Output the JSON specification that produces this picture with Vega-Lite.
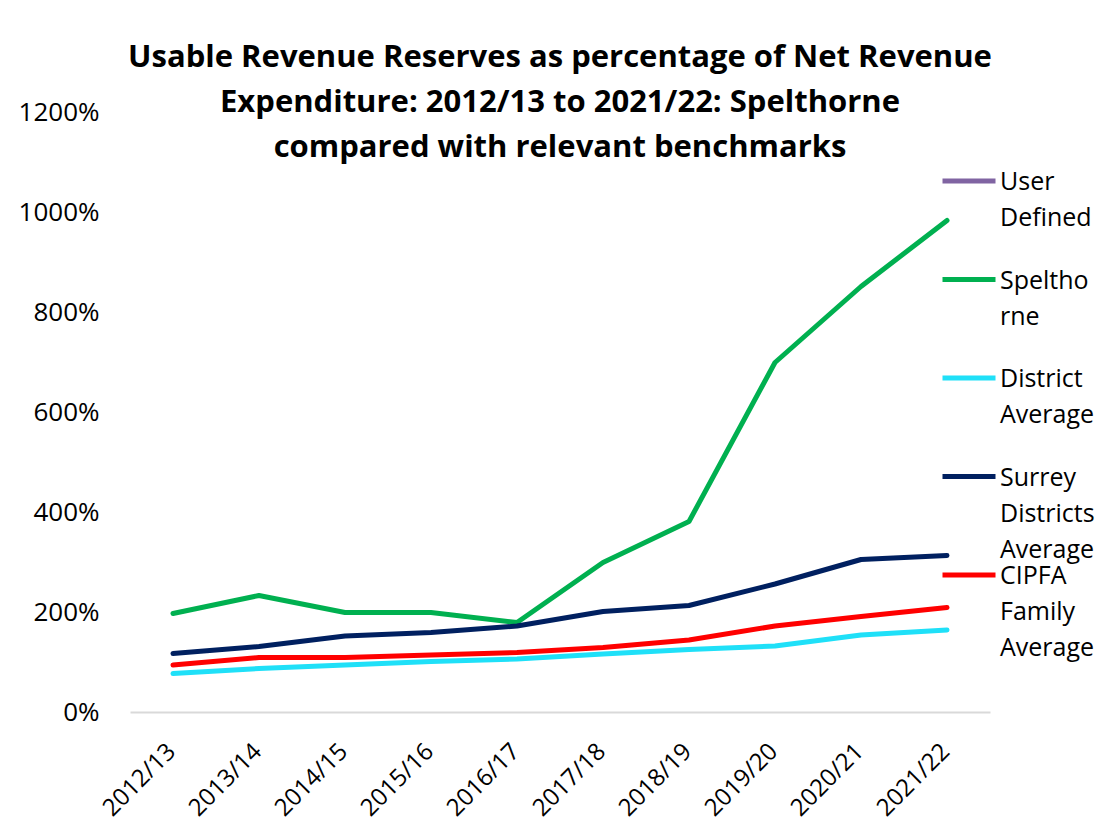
{
  "$schema": "https://vega.github.io/schema/vega-lite/v6.json",
  "width": 860,
  "height": 600,
  "autosize": {"type": "none"},
  "padding": {"left": 130, "top": 112, "right": 116, "bottom": 122},
  "background": "white",
  "title": {
    "text": ["Usable Revenue Reserves as percentage of Net Revenue", "Expenditure: 2012/13 to 2021/22: Spelthorne", "compared with relevant benchmarks"],
    "font": "Open Sans",
    "fontSize": 31,
    "fontWeight": "bold",
    "color": "black",
    "lineHeight": 45,
    "anchor": "middle",
    "baseline": "bottom",
    "offset": -96
  },
  "data": {
    "values": [
      {"year": "2012/13", "series": "Spelthorne", "value": 197},
      {"year": "2013/14", "series": "Spelthorne", "value": 233},
      {"year": "2014/15", "series": "Spelthorne", "value": 199},
      {"year": "2015/16", "series": "Spelthorne", "value": 199},
      {"year": "2016/17", "series": "Spelthorne", "value": 179},
      {"year": "2017/18", "series": "Spelthorne", "value": 299},
      {"year": "2018/19", "series": "Spelthorne", "value": 381},
      {"year": "2019/20", "series": "Spelthorne", "value": 699},
      {"year": "2020/21", "series": "Spelthorne", "value": 851},
      {"year": "2021/22", "series": "Spelthorne", "value": 983},
      {"year": "2012/13", "series": "District Average", "value": 77},
      {"year": "2013/14", "series": "District Average", "value": 87},
      {"year": "2014/15", "series": "District Average", "value": 94},
      {"year": "2015/16", "series": "District Average", "value": 101},
      {"year": "2016/17", "series": "District Average", "value": 106},
      {"year": "2017/18", "series": "District Average", "value": 116},
      {"year": "2018/19", "series": "District Average", "value": 125},
      {"year": "2019/20", "series": "District Average", "value": 132},
      {"year": "2020/21", "series": "District Average", "value": 154},
      {"year": "2021/22", "series": "District Average", "value": 164},
      {"year": "2012/13", "series": "Surrey Districts Average", "value": 117},
      {"year": "2013/14", "series": "Surrey Districts Average", "value": 131},
      {"year": "2014/15", "series": "Surrey Districts Average", "value": 152},
      {"year": "2015/16", "series": "Surrey Districts Average", "value": 159},
      {"year": "2016/17", "series": "Surrey Districts Average", "value": 172},
      {"year": "2017/18", "series": "Surrey Districts Average", "value": 201},
      {"year": "2018/19", "series": "Surrey Districts Average", "value": 213},
      {"year": "2019/20", "series": "Surrey Districts Average", "value": 256},
      {"year": "2020/21", "series": "Surrey Districts Average", "value": 305},
      {"year": "2021/22", "series": "Surrey Districts Average", "value": 313},
      {"year": "2012/13", "series": "CIPFA Family Average", "value": 94},
      {"year": "2013/14", "series": "CIPFA Family Average", "value": 109},
      {"year": "2014/15", "series": "CIPFA Family Average", "value": 109},
      {"year": "2015/16", "series": "CIPFA Family Average", "value": 114},
      {"year": "2016/17", "series": "CIPFA Family Average", "value": 119},
      {"year": "2017/18", "series": "CIPFA Family Average", "value": 129},
      {"year": "2018/19", "series": "CIPFA Family Average", "value": 144},
      {"year": "2019/20", "series": "CIPFA Family Average", "value": 172},
      {"year": "2020/21", "series": "CIPFA Family Average", "value": 191},
      {"year": "2021/22", "series": "CIPFA Family Average", "value": 209}
    ]
  },
  "encoding": {
    "x": {
      "field": "year",
      "type": "nominal",
      "sort": null,
      "scale": {"type": "point", "padding": 0.5},
      "axis": {
        "title": null,
        "labelAngle": -45,
        "labelFont": "Open Sans",
        "labelFontSize": 24,
        "labelColor": "black",
        "labelPadding": 27,
        "labelOffset": -10,
        "ticks": false,
        "domainColor": "#d9d9d9",
        "domainWidth": 2,
        "grid": false
      }
    },
    "y": {
      "field": "value",
      "type": "quantitative",
      "scale": {"domain": [0, 1200], "nice": false},
      "axis": {
        "title": null,
        "values": [0, 200, 400, 600, 800, 1000, 1200],
        "labelExpr": "datum.value + '%'",
        "labelFont": "Open Sans",
        "labelFontSize": 26,
        "labelColor": "black",
        "labelPadding": 31,
        "ticks": false,
        "domain": false,
        "grid": false
      }
    }
  },
  "layer": [
    {
      "transform": [{"filter": "datum.series != 'CIPFA Family Average'"}],
      "mark": {"type": "line", "strokeWidth": 5, "strokeCap": "round", "strokeJoin": "round"},
      "encoding": {
        "color": {
          "field": "series",
          "type": "nominal",
          "scale": {
            "domain": ["User Defined", "Spelthorne", "District Average", "Surrey Districts Average"],
            "range": ["#8064A2", "#00B050", "#1FE0F8", "#002060"]
          },
          "legend": {
            "legendX": 810,
            "legendY": 40,
            "rowPadding": 19.5,
            "gridAlign": "each",
            "labelExpr": "datum.label == 'User Defined' ? ['User', 'Defined'] : datum.label == 'Spelthorne' ? ['Speltho', 'rne'] : datum.label == 'District Average' ? ['District', 'Average'] : ['Surrey', 'Districts', 'Average']",
            "encode": {"labels": {"update": {"dy": {"value": 9}}}}
          }
        }
      }
    },
    {
      "transform": [{"filter": "datum.series == 'CIPFA Family Average'"}],
      "mark": {"type": "line", "strokeWidth": 5, "strokeCap": "round", "strokeJoin": "round"},
      "encoding": {
        "stroke": {
          "field": "series",
          "type": "nominal",
          "scale": {"domain": ["CIPFA Family Average"], "range": ["#FF0000"]},
          "legend": {
            "legendX": 810,
            "legendY": 434,
            "labelExpr": "['CIPFA', 'Family', 'Average']",
            "encode": {"labels": {"update": {"dy": {"value": 9}}}}
          }
        }
      }
    }
  ],
  "config": {
    "view": {"stroke": null},
    "style": {"guide-label": {"lineHeight": 36}},
    "legend": {
      "title": null,
      "orient": "none",
      "padding": 0,
      "symbolType": "stroke",
      "symbolSize": 2809,
      "symbolStrokeWidth": 5,
      "labelOffset": 2,
      "labelFont": "Open Sans",
      "labelFontSize": 25,
      "labelColor": "black",
      "labelLimit": 300,
      "labelBaseline": "alphabetic"
    }
  }
}
